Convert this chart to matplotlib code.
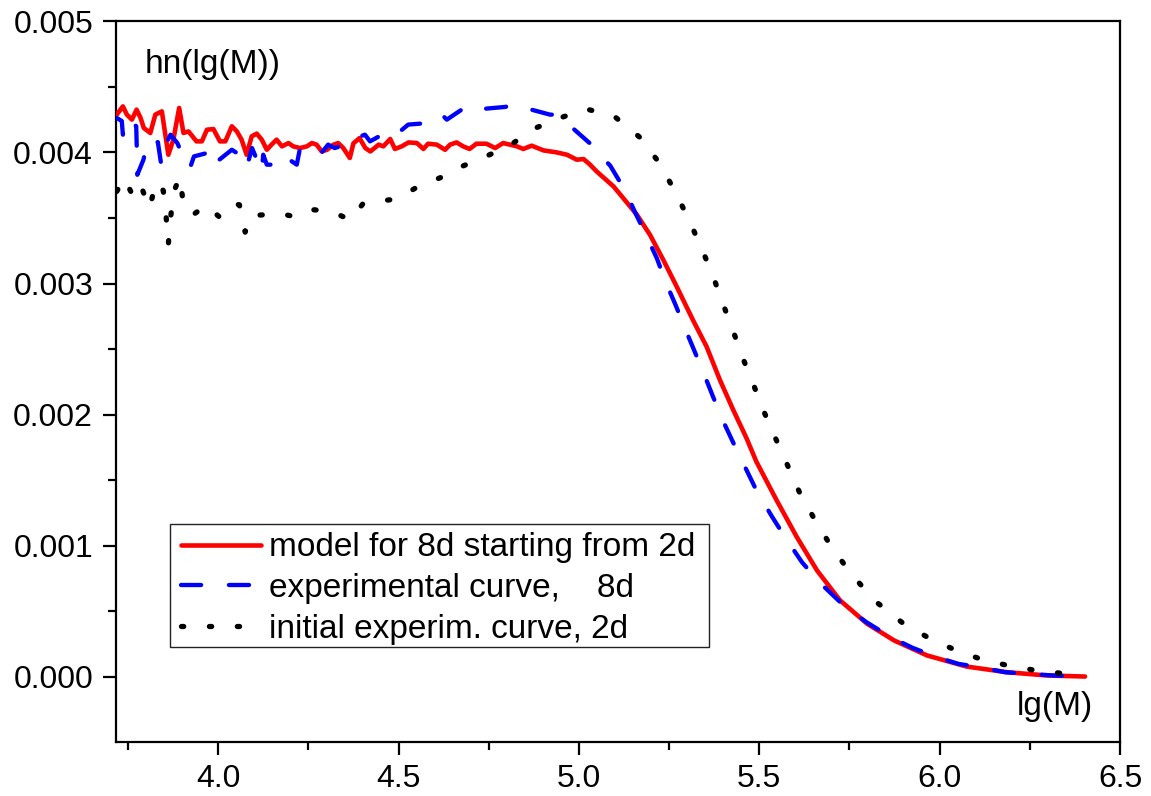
import numpy as np
import matplotlib.pyplot as plt
from matplotlib.patches import Rectangle

plt.rcParams['lines.scale_dashes'] = False

# model for 8d starting from 2d (red, solid)
x_model = [3.719, 3.736, 3.747, 3.761, 3.774, 3.785, 3.794, 3.812, 3.826, 3.844,
           3.862, 3.876, 3.892, 3.904, 3.918, 3.940, 3.955, 3.969, 3.987, 4.005,
           4.020, 4.038, 4.052, 4.065, 4.079, 4.093, 4.107, 4.121, 4.135, 4.148,
           4.162, 4.177, 4.195, 4.208, 4.227, 4.246, 4.260, 4.273, 4.287, 4.302,
           4.320, 4.333, 4.347, 4.365, 4.375, 4.392, 4.408, 4.422, 4.445, 4.458,
           4.477, 4.490, 4.509, 4.528, 4.551, 4.569, 4.582, 4.606, 4.629, 4.643,
           4.661, 4.679, 4.697, 4.716, 4.744, 4.768, 4.790, 4.809, 4.828, 4.846,
           4.869, 4.902, 4.938, 4.967, 4.994, 5.013, 5.031, 5.049, 5.096, 5.119,
           5.161, 5.197, 5.234, 5.271, 5.316, 5.354, 5.391, 5.428, 5.465, 5.492,
           5.548, 5.604, 5.660, 5.724, 5.799, 5.874, 5.965, 6.075, 6.186, 6.297,
           6.403]
y_model = [4.289, 4.352, 4.289, 4.251, 4.327, 4.264, 4.187, 4.149, 4.289, 4.314,
           3.983, 4.098, 4.340, 4.149, 4.161, 4.085, 4.085, 4.174, 4.179, 4.085,
           4.085, 4.200, 4.161, 4.098, 3.983, 4.123, 4.144, 4.098, 4.021, 4.060,
           4.098, 4.047, 4.072, 4.047, 4.034, 4.047, 4.072, 4.060, 4.008, 4.021,
           4.060, 4.072, 4.034, 3.958, 4.070, 4.110, 4.034, 4.008, 4.060, 4.047,
           4.103, 4.027, 4.047, 4.077, 4.072, 4.027, 4.067, 4.060, 4.021, 4.060,
           4.077, 4.047, 4.027, 4.067, 4.067, 4.034, 4.072, 4.060, 4.047, 4.027,
           4.052, 4.016, 4.001, 3.983, 3.945, 3.950, 3.907, 3.856, 3.741, 3.665,
           3.524, 3.372, 3.180, 2.977, 2.722, 2.518, 2.263, 2.034, 1.817, 1.640,
           1.346, 1.065, 0.810, 0.581, 0.403, 0.275, 0.161, 0.076, 0.033, 0.008,
           0.000]

# experimental curve, 8d (blue, dashed)
x_exp8 = [3.719, 3.733, 3.736, 3.752, 3.765, 3.773, 3.775, 3.776, 3.793, 3.804,
          3.806, 3.833, 3.842, 3.852, 3.868, 3.887, 3.909, 3.922, 3.933, 3.969,
          3.978, 3.992, 4.038, 4.052, 4.061, 4.080, 4.094, 4.121, 4.125, 4.135,
          4.154, 4.177, 4.218, 4.227, 4.282, 4.305, 4.323, 4.384, 4.394, 4.407,
          4.421, 4.480, 4.499, 4.527, 4.582, 4.601, 4.620, 4.634, 4.675, 4.694,
          4.712, 4.731, 4.796, 4.819, 4.832, 4.851, 4.920, 4.938, 4.975, 5.040,
          5.058, 5.087, 5.128, 5.156, 5.188, 5.216, 5.242, 5.268, 5.296, 5.320,
          5.349, 5.372, 5.402, 5.428, 5.464, 5.491, 5.533, 5.568, 5.618, 5.666,
          5.737, 5.797, 5.864, 5.925, 5.992, 6.051, 6.121, 6.181, 6.250, 6.315,
          6.403]
y_exp8 = [4.264, 4.240, 4.136, 4.264, 4.225, 4.200, 3.983, 3.830, 3.945, 4.072,
          4.098, 4.079, 3.912, 4.047, 4.136, 4.072, 3.931, 3.881, 3.970, 3.996,
          3.894, 3.920, 4.021, 3.996, 3.907, 3.894, 4.034, 3.856, 3.983, 3.907,
          3.907, 3.983, 3.907, 4.034, 3.983, 4.060, 4.034, 4.085, 4.123, 4.136,
          4.085, 4.174, 4.149, 4.213, 4.225, 4.251, 4.289, 4.251, 4.327, 4.297,
          4.327, 4.332, 4.348, 4.365, 4.340, 4.340, 4.289, 4.289, 4.205, 4.047,
          3.983, 3.899, 3.710, 3.542, 3.359, 3.193, 3.002, 2.836, 2.645, 2.487,
          2.294, 2.135, 1.937, 1.784, 1.580, 1.427, 1.231, 1.078, 0.874, 0.721,
          0.535, 0.415, 0.301, 0.219, 0.148, 0.097, 0.066, 0.033, 0.020, 0.008,
          0.000]

# initial experim. curve, 2d (black, dotted)
x_init2 = [3.719, 3.740, 3.761, 3.782, 3.810, 3.828, 3.848, 3.856, 3.862, 3.868,
           3.878, 3.894, 3.904, 3.930, 3.967, 4.002, 4.032, 4.059, 4.075, 4.090,
           4.124, 4.166, 4.218, 4.266, 4.318, 4.366, 4.403, 4.460, 4.494, 4.555,
           4.618, 4.676, 4.742, 4.808, 4.873, 4.948, 5.020, 5.096, 5.168, 5.225,
           5.266, 5.304, 5.337, 5.369, 5.396, 5.425, 5.451, 5.482, 5.511, 5.544,
           5.577, 5.611, 5.652, 5.699, 5.753, 5.819, 5.897, 5.974, 6.050, 6.126,
           6.204, 6.279, 6.355, 6.400]
y_init2 = [3.703, 3.805, 3.685, 3.772, 3.576, 3.775, 3.710, 3.504, 3.300, 3.499,
           3.708, 3.812, 3.601, 3.524, 3.596, 3.512, 3.611, 3.601, 3.392, 3.517,
           3.524, 3.537, 3.507, 3.563, 3.545, 3.486, 3.614, 3.634, 3.644, 3.741,
           3.810, 3.894, 3.970, 4.052, 4.179, 4.264, 4.332, 4.281, 4.118, 3.914,
           3.703, 3.494, 3.287, 3.079, 2.869, 2.658, 2.454, 2.242, 2.034, 1.825,
           1.621, 1.409, 1.206, 0.994, 0.790, 0.581, 0.410, 0.288, 0.194, 0.122,
           0.076, 0.041, 0.020, 0.010]

labels = ['model for 8d starting from 2d', 'experimental curve,    8d',
          'initial experim. curve, 2d']

fig = plt.figure(figsize=(11.51, 7.96), dpi=100)
ax = fig.add_axes([0.1008, 0.0678, 0.8723, 0.9052])

ax.plot(x_model, np.array(y_model) * 1e-3, color='#ff0000', lw=3.3,
        solid_capstyle='round', solid_joinstyle='round', label=labels[0], zorder=3)
ax.plot(x_exp8, np.array(y_exp8) * 1e-3, color='#0000ff', lw=3.1,
        dashes=(14.5, 20), dash_capstyle='round', label=labels[1], zorder=4)
ax.plot(x_init2, np.array(y_init2) * 1e-3, color='black', lw=3.8,
        dashes=(1.6, 18.5), dash_capstyle='round', label=labels[2], zorder=5)

ax.set_xlim(3.717, 6.5)
ax.set_ylim(-0.0005, 0.005)
ax.set_xticks(np.arange(4.0, 6.51, 0.5))
ax.set_xticks(np.arange(3.75, 6.5, 0.5), minor=True)
ax.set_yticks(np.arange(0, 0.00501, 0.001))
ax.set_yticks(np.arange(0.0005, 0.005, 0.001), minor=True)
ax.set_xticklabels(['%.1f' % v for v in np.arange(4.0, 6.51, 0.5)])
ax.set_yticklabels(['%.3f' % v for v in np.arange(0, 0.00501, 0.001)])

tick_font = ['Liberation Sans', 'DejaVu Sans']
for lab in ax.get_xticklabels() + ax.get_yticklabels():
    lab.set_family(tick_font)
    lab.set_fontsize(23)

ax.tick_params(which='major', direction='out', length=9.5, width=1.6, pad=6)
ax.tick_params(axis='y', which='major', pad=7)
ax.tick_params(which='minor', direction='out', length=5.5, width=1.6)
for s in ax.spines.values():
    s.set_linewidth(1.6)

txt_font = ['Liberation Sans', 'DejaVu Sans']
ax.text(0.028, 0.928, 'hn(lg(M))', transform=ax.transAxes, fontsize=24,
        family=txt_font, ha='left', va='baseline')
ax.text(0.973, 0.0375, 'lg(M)', transform=ax.transAxes, fontsize=24,
        family=txt_font, ha='right', va='baseline')

leg = ax.legend(loc='upper left', bbox_to_anchor=(0.0644, 0.291), frameon=False,
                prop={'family': txt_font, 'size': 24}, handlelength=2.4,
                handletextpad=0.25, labelspacing=0.29, borderpad=0,
                borderaxespad=0)
leg.set_zorder(6)
ax.add_patch(Rectangle((0.0538, 0.1319), 0.537, 0.1707, transform=ax.transAxes,
                       fill=False, edgecolor='#222222', lw=1.0, zorder=6))

fig.savefig('out.png', dpi=100)
